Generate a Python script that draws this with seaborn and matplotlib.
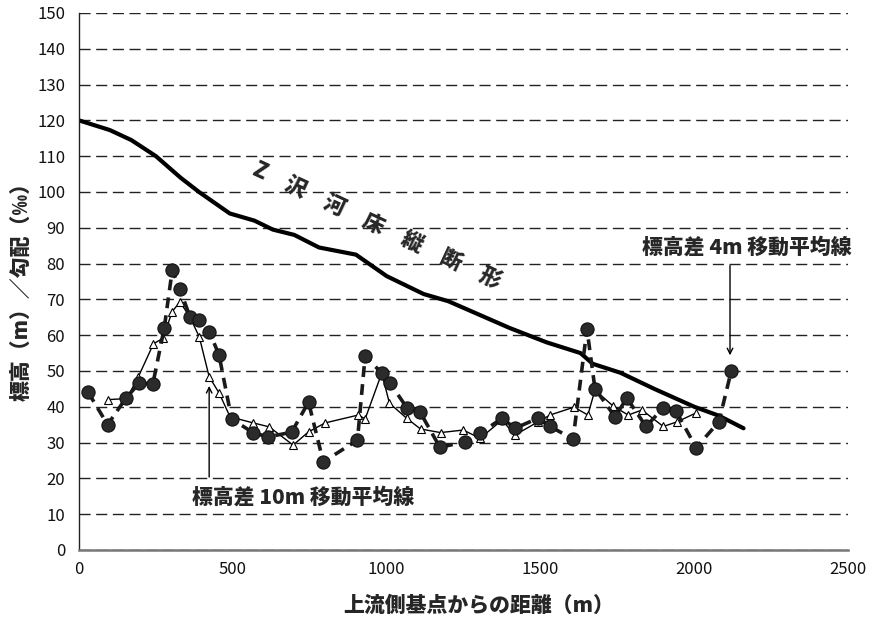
import pandas as pd
import matplotlib.pyplot as plt
import seaborn as sns

# river bed longitudinal profile (elevation, m)
prof_x = [0, 100, 170, 250, 330, 390, 490, 570, 630, 700, 780, 900, 1000,
          1120, 1200, 1400, 1520, 1630, 1670, 1760, 1870, 2000, 2080, 2160]
prof_y = [120, 117.3, 114.5, 110, 104, 100, 94, 92, 89.5, 88, 84.5, 82.5, 76.5,
          71.5, 69.5, 62, 58, 55, 52, 49.5, 45, 40, 37.5, 34]

# gradient, 4 m elevation-difference moving average
ma4_x = [30, 93, 153, 196, 240, 277, 303, 328, 361, 391, 424, 455, 496, 567,
         615, 691, 746, 794, 905, 930, 984, 1011, 1066, 1108, 1173, 1255, 1304,
         1375, 1417, 1492, 1531, 1606, 1651, 1677, 1742, 1781, 1843, 1899, 1941,
         2006, 2080, 2120]
ma4_y = [44, 35, 42.5, 46.6, 46.4, 62, 78.2, 72.9, 65, 64.2, 60.9, 54.5, 36.6,
         32.7, 31.6, 32.9, 41.3, 24.6, 30.7, 54.2, 49.4, 46.6, 39.7, 38.6, 28.7,
         30.2, 32.6, 36.8, 34, 36.8, 34.5, 31, 61.7, 45.1, 37.2, 42.4, 34.5, 39.7,
         38.7, 28.6, 35.8, 50]

# gradient, 10 m elevation-difference moving average
ma10_x = [94, 155, 193, 242, 274, 302, 328, 361, 391, 423, 455, 491, 566, 618,
          696, 746, 800, 908, 930, 984, 1009, 1065, 1110, 1175, 1249, 1304, 1375,
          1417, 1492, 1531, 1609, 1654, 1677, 1736, 1785, 1830, 1899, 1944, 2006]
ma10_y = [42, 42.3, 48.4, 57.6, 59.2, 66.5, 69.3, 65, 59.5, 48.4, 43.9, 37.2,
          35.5, 34.4, 29.3, 33, 35.5, 37.7, 36.6, 49.4, 41, 36.8, 33.8, 32.8,
          33.5, 31.2, 36.3, 32.1, 35.8, 37.7, 39.9, 37.7, 44.7, 40.2, 37.7, 39.1,
          34.5, 35.8, 38.3]

x_ticks = [0, 500, 1000, 1500, 2000, 2500]
y_ticks = list(range(0, 151, 10))

sns.set_style("white")
plt.rcParams['font.family'] = ['Noto Sans CJK JP', 'DejaVu Sans']

fig = plt.figure(figsize=(8.79, 6.24), dpi=100)
ax = fig.add_axes([0.0899, 0.1186, 0.875, 0.8606])

# profile line
sns.lineplot(x=prof_x, y=prof_y, sort=False, estimator=None, ax=ax,
             color='black', linewidth=3.0)

# 10 m moving average (thin line, open triangles)
sns.lineplot(x=ma10_x, y=ma10_y, sort=False, estimator=None, ax=ax,
             color='black', linewidth=1.0, marker='^', markersize=6,
             markerfacecolor='white', markeredgecolor='black', markeredgewidth=0.8)

# 4 m moving average (thick dashed, filled circles)
sns.lineplot(x=ma4_x, y=ma4_y, sort=False, estimator=None, ax=ax,
             color='#1a1a1a', linewidth=2.6, linestyle=(0, (3, 2)),
             marker='o', markersize=9.5, markerfacecolor='#2b2b2b',
             markeredgecolor='#111111', markeredgewidth=0.8)

ax.set_xlim(0, 2500)
ax.set_ylim(0, 150)
ax.set_xticks(x_ticks)
ax.set_yticks(y_ticks)
ax.tick_params(axis='both', length=0, labelsize=12, colors='#111111')
ax.tick_params(axis='x', pad=8)
ax.tick_params(axis='y', pad=10)

ax.yaxis.grid(True, color='#222222', linewidth=1.0, linestyle=(0, (8, 4)))
ax.xaxis.grid(False)
ax.set_axisbelow(True)

for s in ['top', 'right']:
    ax.spines[s].set_visible(False)
ax.spines['left'].set_color('#222222')
ax.spines['left'].set_linewidth(1.0)
ax.spines['bottom'].set_color('#777777')
ax.spines['bottom'].set_linewidth(1.8)

ax.set_ylabel('標高（m）／勾配（‰）', fontsize=15, fontweight='heavy')
ax.yaxis.set_label_coords(-0.062, 0.49)
ax.set_xlabel('上流側基点からの距離（m）', fontsize=15, fontweight='heavy')
ax.xaxis.set_label_coords(0.52, -0.085)

# labels
ax.text(966, 90.5, 'Z　沢　河　床　縦　断　形', rotation=-25, rotation_mode='anchor',
        ha='center', va='center', fontsize=15.5, fontweight='heavy')

ax.text(2172, 84.6, '標高差 4m 移動平均線', ha='center', va='center',
        fontsize=15, fontweight='heavy')
ax.annotate('', xy=(2116, 53.6), xytext=(2116, 80.2),
            arrowprops=dict(arrowstyle='->', color='black', lw=1.0))

ax.text(728, 14.8, '標高差 10m 移動平均線', ha='center', va='center',
        fontsize=15, fontweight='heavy')
ax.annotate('', xy=(423, 46.6), xytext=(423, 19.6),
            arrowprops=dict(arrowstyle='->', color='black', lw=1.0))

plt.savefig('out.png', dpi=100)
